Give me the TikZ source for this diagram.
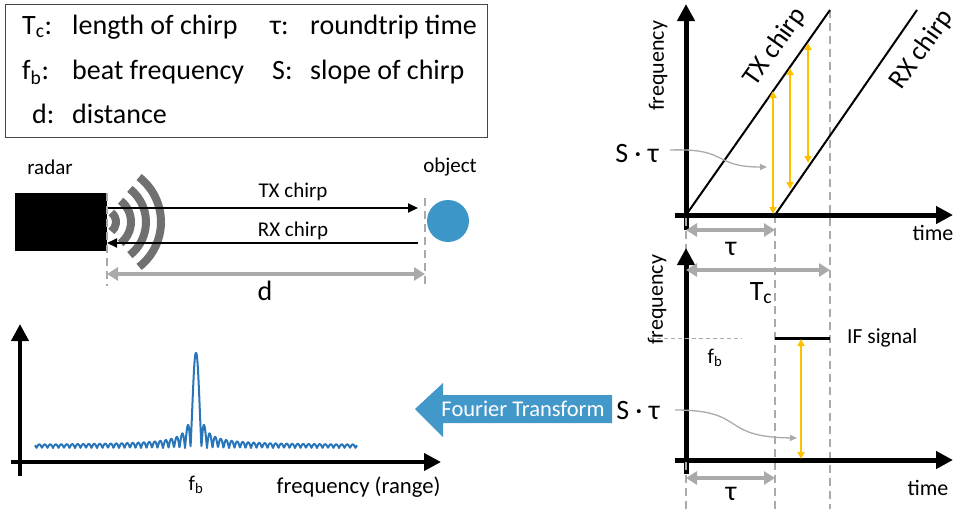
\documentclass[tikz,border=0pt]{standalone}
\usepackage{fontspec}
\setmainfont{Carlito}
\usetikzlibrary{arrows.meta}
\definecolor{lgray}{RGB}{170,170,170}
\definecolor{wgray}{RGB}{112,112,112}
\definecolor{boxgray}{RGB}{70,70,70}
\definecolor{objblue}{RGB}{61,150,200}
\definecolor{ftblue}{RGB}{67,152,202}
\definecolor{specblue}{RGB}{40,118,185}
\definecolor{ygold}{RGB}{255,192,0}
\newcommand\fs[1]{\fontsize{#1}{#1}\selectfont}
\newcommand\sbs[1]{\textsubscript{#1}}
\begin{document}
\begin{tikzpicture}[x=1pt,y=-1pt,
  axisline/.style={line width=5pt,-{Triangle[length=17pt,width=17pt]}},
  spaxis/.style={line width=4pt,-{Triangle[length=17pt,width=17pt]}},
  dimarrow/.style={lgray,line width=4pt,{Triangle[length=11pt,width=13pt]}-{Triangle[length=11pt,width=13pt]}},
  guide/.style={lgray,line width=2pt,dash pattern=on 8pt off 5pt},
  chirp/.style={black,line width=2pt},
  beat/.style={ygold,line width=2pt,{Triangle[length=7pt,width=7pt]}-{Triangle[length=7pt,width=7pt]}},
  pointer/.style={lgray,line width=1.3pt,-{Triangle[length=7pt,width=6pt]}},
  sig/.style={black,line width=2pt,-{Triangle[length=10pt,width=9pt]}},
  wave/.style={wgray,line width=8pt},
  lbl/.style={inner sep=0pt,anchor=base west},
  declare function={sincabs(\t)=abs(sin(32.7273*max(abs(\t),0.05))/(0.571199*max(abs(\t),0.05)));},
]
\useasboundingbox (0,0) rectangle (964,509);

% ---------- legend ----------
\node[draw=boxgray,line width=1.3pt,minimum width=482pt,minimum height=133pt,anchor=north west,inner sep=0pt] (legend) at (5,4) {};
\node[lbl] (l1a) at (22,34) {\fs{28}T\sbs{c}:};
\node[lbl] (l1b) at (72,34) {\fs{28}length of chirp};
\node[lbl] (l1c) at (270,34) {\fs{28}τ:};
\node[lbl] (l1d) at (310,34) {\fs{28}roundtrip time};
\node[lbl] (l2a) at (22,79) {\fs{28}f\sbs{b}:};
\node[lbl] (l2b) at (72,79) {\fs{28}beat frequency};
\node[lbl] (l2c) at (272,79) {\fs{28}S:};
\node[lbl] (l2d) at (310,79) {\fs{28}slope of chirp};
\node[lbl] (l3a) at (32,123) {\fs{28}d:};
\node[lbl] (l3b) at (72,123) {\fs{28}distance};

% ---------- radar scene ----------
\node (radarlbl) at (50,167) {\fs{21}radar};
\node (objlbl) at (450,167) {\fs{21}object};
\node[fill=black,minimum width=92pt,minimum height=58pt,inner sep=0pt] (radar) at (61,222) {};
\coordinate (wc) at (104,222);
\foreach \r in {12,27,42,57}
  \draw[wave] ([shift={(-52:\r)}]wc) arc[start angle=-52,end angle=52,radius=\r];
\node[circle,fill=objblue,minimum size=42pt,inner sep=0pt] (obj) at (448,221) {};
\coordinate (txs) at (107,208);
\coordinate (txe) at (418,208);
\coordinate (rxs) at (418,243);
\coordinate (rxe) at (107,243);
\draw[sig] (txs) -- (txe);
\draw[sig] (rxs) -- (rxe);
\node (txlbl) at (293,192) {\fs{21}TX chirp};
\node (rxlbl) at (293,231) {\fs{21}RX chirp};
\coordinate (g1t) at (107,193); \coordinate (g1b) at (107,286);
\coordinate (g2t) at (425,198); \coordinate (g2b) at (425,286);
\draw[guide] (g1t) -- (g1b);
\draw[guide] (g2t) -- (g2b);
\coordinate (da) at (107,274); \coordinate (db) at (425,274);
\draw[dimarrow] (da) -- (db);
\node (dlbl) at (265,291) {\fs{28}d};

% ---------- spectrum ----------
\coordinate (sy0) at (20,476); \coordinate (sy1) at (20,324);
\coordinate (sx0) at (11,462); \coordinate (sx1) at (441,462);
\draw[spaxis] (sy0) -- (sy1);
\draw[spaxis] (sx0) -- (sx1);
\draw[specblue,line width=2pt,line join=round]
  plot[domain=-161:161,samples=806]
  ({196+\x},{448-95*sincabs(\x)-2.5*abs(sin(32.7273*\x))});
\node (fbs) at (196,485) {\fs{21}f\sbs{b}};
\node[anchor=east] (frange) at (444,487) {\fs{22.7}frequency (range)};

% ---------- Fourier arrow ----------
\fill[ftblue] (612,395) -- (443,395) -- (443,383) -- (415,409) -- (443,437) -- (443,423) -- (612,423) -- cycle;
\node[text=white] (ft) at (523,409) {\fs{22.5}Fourier Transform};

% ---------- top chart ----------
\coordinate (o1) at (686,215);
\coordinate (ta1) at (686,230); \coordinate (ta2) at (686,4);
\coordinate (tx0) at (675,215); \coordinate (tx1) at (953,215);
\coordinate (gA1) at (686,218); \coordinate (gA2) at (686,262);
\coordinate (gA3) at (686,462); \coordinate (gA4) at (686,509);
\coordinate (gB1) at (775,215); \coordinate (gB2) at (775,509);
\coordinate (gC1) at (830,10);  \coordinate (gC2) at (830,509);
\draw[guide] (gB1) -- (gB2);
\draw[guide] (gC1) -- (gC2);
\draw[axisline] (ta1) -- (ta2);
\draw[axisline] (tx0) -- (tx1);
\draw[guide] (gA1) -- (gA2);
\coordinate (txa) at (686,215); \coordinate (txb) at (830,10);
\coordinate (rxa) at (775,215); \coordinate (rxb) at (917,10);
\draw[chirp] (txa) -- (txb);
\draw[chirp] (rxa) -- (rxb);
\node[rotate=54.6] (txc) at (775,47) {\fs{27}TX chirp};
\node[rotate=54.6] (rxc) at (922,50) {\fs{27}RX chirp};
\node[rotate=90] (freq1) at (658,66) {\fs{22}frequency};
\node (time1) at (933,233) {\fs{22}time};
\coordinate (b1a) at (773,91); \coordinate (b1b) at (773,214);
\coordinate (b2a) at (790,68); \coordinate (b2b) at (790,189);
\coordinate (b3a) at (808,43); \coordinate (b3b) at (808,163);
\draw[beat] (b1a) -- (b1b);
\draw[beat] (b2a) -- (b2b);
\draw[beat] (b3a) -- (b3b);
\node (st1) at (637,154) {\fs{28}S · τ};
\coordinate (p1a) at (670,150); \coordinate (p1b) at (767,167);
\draw[pointer] (p1a) .. controls (730,148) and (712,167) .. (p1b);
\coordinate (tau1a) at (686,230); \coordinate (tau1b) at (775,230);
\draw[dimarrow] (tau1a) -- (tau1b);
\node (tau1) at (731,249) {\fs{28}τ};

% ---------- bottom chart ----------
\coordinate (ba1) at (686,474); \coordinate (ba2) at (686,248);
\coordinate (bx0) at (675,460); \coordinate (bx1) at (953,460);
\draw[axisline] (ba1) -- (ba2);
\draw[axisline] (bx0) -- (bx1);
\draw[guide] (gA3) -- (gA4);
\node[rotate=90] (freq2) at (657,300) {\fs{22}frequency};
\node (time2) at (928,488) {\fs{22}time};
\coordinate (tca) at (686,270); \coordinate (tcb) at (830,270);
\draw[dimarrow] (tca) -- (tcb);
\node (tc) at (761,293) {\fs{28}T\sbs{c}};
\coordinate (fba) at (650,338); \coordinate (fbb) at (742,338);
\draw[lgray,line width=1pt,dash pattern=on 4pt off 3pt] (fba) -- (fbb);
\node (fbc) at (715,358) {\fs{21}f\sbs{b}};
\coordinate (ifa) at (775,338); \coordinate (ifb) at (830,338);
\draw[black,line width=3pt] (ifa) -- (ifb);
\node[anchor=west,inner sep=0pt] (ifl) at (847,338) {\fs{21.5}IF signal};
\coordinate (b4a) at (801,339); \coordinate (b4b) at (801,459);
\draw[beat] (b4a) -- (b4b);
\node (st2) at (638,411) {\fs{28}S · τ};
\coordinate (p2a) at (675,410); \coordinate (p2b) at (797,438);
\draw[pointer] (p2a) .. controls (748,410) and (718,437) .. (p2b);
\coordinate (tau2a) at (686,478); \coordinate (tau2b) at (775,478);
\draw[dimarrow] (tau2a) -- (tau2b);
\node (tau2) at (731,494) {\fs{28}τ};
\end{tikzpicture}
\end{document}
